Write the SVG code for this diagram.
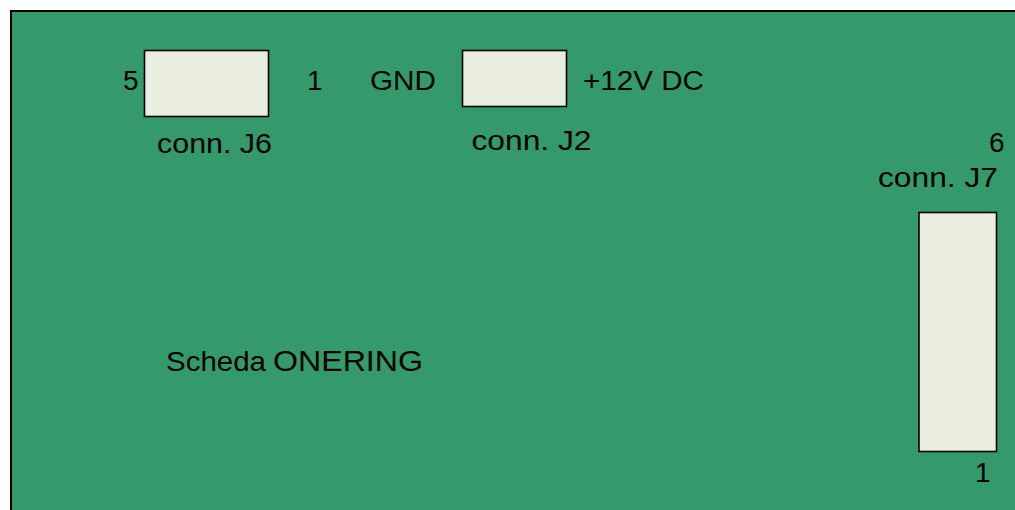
<svg xmlns="http://www.w3.org/2000/svg" width="1015" height="510" viewBox="0 0 1015 510">
<style>
.board{fill:#359A6B;stroke:#000;stroke-width:2}
.conn{fill:#E9EEDF;stroke:#000;stroke-width:1.6}
text{font-family:"Liberation Sans",Arial,sans-serif;font-size:27px;fill:#000}
.d{font-size:28px}
</style>
<rect width="1015" height="510" fill="#fff"/>
<g id="board">
<rect class="board" x="11" y="11" width="1030" height="520"/>
<text x="166" y="371" textLength="100" lengthAdjust="spacingAndGlyphs">Scheda</text>
<text x="273" y="371" style="font-size:30px" textLength="150" lengthAdjust="spacingAndGlyphs">ONERING</text>
</g>
<g id="J6">
<rect class="conn" x="144.5" y="50.5" width="124" height="66"/>
<text class="d" x="138.5" y="89.5" text-anchor="end">5</text>
<text class="d" x="307" y="89.5">1</text>
<text x="157" y="152.5" textLength="115" lengthAdjust="spacingAndGlyphs">conn. J6</text>
</g>
<g id="J2">
<rect class="conn" x="462.5" y="50.5" width="104" height="56"/>
<text x="370" y="89.5" textLength="66" lengthAdjust="spacingAndGlyphs">GND</text>
<text x="583" y="89.5" textLength="121" lengthAdjust="spacingAndGlyphs">+12V DC</text>
<text x="471.5" y="150" textLength="120" lengthAdjust="spacingAndGlyphs">conn. J2</text>
</g>
<g id="J7">
<rect class="conn" x="919" y="212.5" width="77.5" height="239"/>
<text class="d" x="1004.5" y="152" text-anchor="end">6</text>
<text x="878" y="186.5" textLength="120" lengthAdjust="spacingAndGlyphs">conn. J7</text>
<text class="d" x="975" y="482">1</text>
</g>
<g id="connectors"/>
</svg>
